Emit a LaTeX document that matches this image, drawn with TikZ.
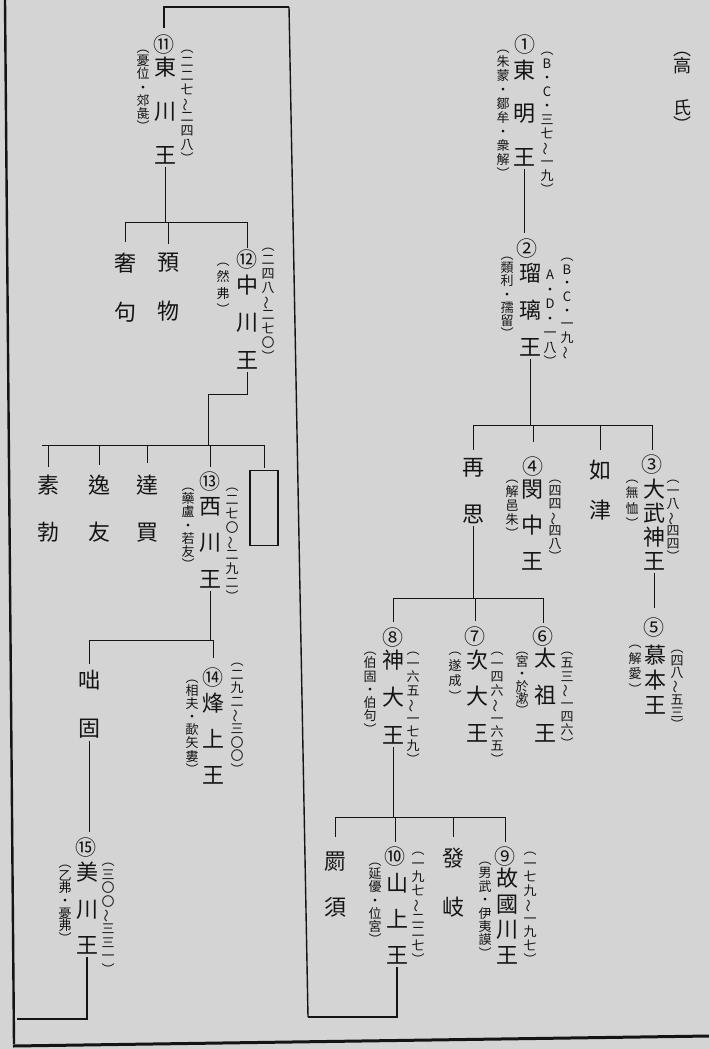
\documentclass[tikz,border=0pt]{standalone}
\usepackage{fontspec}
\usepackage{graphicx}
\newfontfamily\cjk{Noto Sans CJK TC}
\definecolor{paper}{RGB}{212,212,212}
\definecolor{ink}{RGB}{20,20,20}
\newcommand{\wv}{\rotatebox[origin=c]{90}{～}}
\tikzset{
  base/.style={inner sep=0pt, outer sep=0pt, text=ink, align=center, anchor=north},
  nm/.style={base, font=\cjk\fontsize{22}{#1}\selectfont},
  an/.style={base, font=\cjk\fontsize{13}{#1}\selectfont},
  an/.default=13.6,
  ck/.style={inner sep=0pt, outer sep=0pt, text=ink, font=\cjk\fontsize{21}{21}\selectfont},
  ln/.style={draw=ink, line width=0.8pt},
  drop/.style={ln, shorten >=#1},
  drop/.default=6pt,
  up/.style={ln, shorten <=3pt}
}
\begin{document}
\begin{tikzpicture}[x=1pt,y=-1pt]
\fill[paper] (0,0) rectangle (709,1049);
\useasboundingbox (0,0) rectangle (709,1049);

% title
\node[base, font=\cjk\fontsize{18}{13}\selectfont] (title) at (682,52) {︵\\高\\[24pt]氏\\︶};

% ---- right tree ----
\node[ck] (k1) at (525,45) {①};
\node[nm=43.5] (n1) at (524,60) {東\\明\\王};
\node[an=14] (a1l) at (503,50) {︵\\朱\\蒙\\・\\鄒\\牟\\・\\衆\\解\\︶};
\node[an=14] (a1r) at (547,52) {︵\\B\\・\\C\\・\\三\\七\\\wv\\一\\九\\︶};

\node[ck] (k2) at (527,249) {②};
\node[nm=37] (n2) at (530,263) {瑠\\璃\\王};
\node[an=13.2] (a2l) at (507,257) {︵\\類\\利\\・\\孺\\留\\︶};
\node[an=13.7] (a2r) at (567,258) {︵\\B\\・\\C\\・\\一\\九\\\wv};
\node[an=14.5] (a2m) at (550,270) {A\\・\\D\\・\\一\\八\\︶};

\node[nm=47] (r1) at (473,458) {再\\思};
\node[ck] (k4) at (533,467) {④};
\node[nm=36] (n4) at (532,480) {閔\\中\\王};
\node[an=14] (a4l) at (512,480) {︵\\解\\邑\\朱\\︶};
\node[an=13.2] (a4r) at (555,480) {︵\\四\\四\\\wv\\四\\八\\︶};
\node[nm=40] (r2) at (600,460) {如\\津};
\node[ck] (k3) at (652,465) {③};
\node[nm=24] (n3) at (654,479) {大\\武\\神\\王};
\node[an=15.5] (a3l) at (632,480) {︵\\無\\恤\\︶};
\node[an=13.2] (a3r) at (673,480) {︵\\一\\八\\\wv\\四\\四\\︶};

\node[ck] (k5) at (654,628) {⑤};
\node[nm=25] (n5) at (655,645) {慕\\本\\王};
\node[an=15.7] (a5l) at (635,645) {︵\\解\\愛\\︶};
\node[an=12.7] (a5r) at (677,650) {︵\\四\\八\\\wv\\五\\三\\︶};

\node[ck] (k6) at (543,637) {⑥};
\node[nm=37.5] (n6) at (545,648) {太\\祖\\王};
\node[an=12.2] (a6l) at (522,652) {︵\\宮\\・\\於\\漱\\︶};
\node[an=13.4] (a6r) at (567,652) {︵\\五\\三\\\wv\\一\\四\\六\\︶};

\node[ck] (k7) at (475,637) {⑦};
\node[nm=36.5] (n7) at (477,650) {次\\大\\王};
\node[an=15.7] (a7l) at (455,652) {︵\\遂\\成\\︶};
\node[an=13.75] (a7r) at (497,652) {︵\\一\\四\\六\\\wv\\一\\六\\五\\︶};

\node[ck] (k8) at (393,638) {⑧};
\node[nm=37.5] (n8) at (393,650) {神\\大\\王};
\node[an=13.3] (a8l) at (370,652) {︵\\伯\\固\\・\\伯\\句\\︶};
\node[an=13.75] (a8r) at (413,652) {︵\\一\\六\\五\\\wv\\一\\七\\九\\︶};

\node[nm=46] (r3) at (335,852) {罽\\須};
\node[ck] (k10) at (395,857) {⑩};
\node[nm=36] (n10) at (397,873) {山\\上\\王};
\node[an=13.2] (a10l) at (375,863) {︵\\延\\優\\・\\位\\宮\\︶};
\node[an=13.75] (a10r) at (418,852) {︵\\一\\九\\七\\\wv\\二\\二\\七\\︶};
\node[nm=49] (r4) at (453,848) {發\\岐};
\node[ck] (k9) at (505,857) {⑨};
\node[nm=25.7] (n9) at (507,868) {故\\國\\川\\王};
\node[an=13.4] (a9l) at (485,862) {︵\\男\\武\\・\\伊\\夷\\謨\\︶};
\node[an=13.75] (a9r) at (530,852) {︵\\一\\七\\九\\\wv\\一\\九\\七\\︶};

% ---- left tree ----
\node[ck] (k11) at (164,45) {⑪};
\node[nm=44] (n11) at (165,57) {東\\川\\王};
\node[an=13.2] (a11l) at (143,50) {︵\\憂\\位\\・\\郊\\彘\\︶};
\node[an=13.9] (a11r) at (187,50) {︵\\二\\二\\七\\\wv\\二\\四\\八\\︶};

\node[nm=49] (r5) at (125,253) {奢\\句};
\node[nm=49] (r6) at (168,253) {預\\物};
\node[ck] (k12) at (247,260) {⑫};
\node[nm=37.5] (n12) at (247,275) {中\\川\\王};
\node[an=16.3] (a12l) at (223,263) {︵\\然\\弗\\︶};
\node[an=13.9] (a12r) at (268,248) {︵\\二\\四\\八\\\wv\\二\\七\\〇\\︶};

\node[nm=47] (r7) at (48,475) {素\\勃};
\node[nm=47] (r8) at (99,475) {逸\\友};
\node[nm=47] (r9) at (147,475) {達\\買};
\node[ck] (k13) at (210,482) {⑬};
\node[nm=36.5] (n13) at (210,497) {西\\川\\王};
\node[an=13.2] (a13l) at (188,488) {︵\\藥\\盧\\・\\若\\友\\︶};
\node[an=13.9] (a13r) at (232,488) {︵\\二\\七\\〇\\\wv\\二\\九\\二\\︶};
\node[draw=ink, line width=1.1pt, minimum width=28pt, minimum height=75pt, inner sep=0pt, anchor=north] (box) at (264,470) {};

\node[nm=48] (r10) at (89,670) {咄\\固};
\node[ck] (k14) at (213,678) {⑭};
\node[nm=36] (n14) at (213,693) {烽\\上\\王};
\node[an=13.1] (a14l) at (192,680) {︵\\相\\夫\\・\\歃\\矢\\婁\\︶};
\node[an=13.6] (a14r) at (237,663) {︵\\二\\九\\二\\\wv\\三\\〇\\〇\\︶};

\node[ck] (k15) at (86,848) {⑮};
\node[nm=36.5] (n15) at (87,862) {美\\川\\王};
\node[an=12.7] (a15l) at (65,865) {︵\\乙\\弗\\・\\憂\\弗\\︶};
\node[an=13.6] (a15r) at (108,863) {︵\\三\\〇\\〇\\\wv\\三\\三\\一\\︶};

% ---- coordinates ----
\coordinate (b2) at (530,425);
\coordinate (b3) at (473,598);
\coordinate (b4) at (393,817);
\coordinate (b5) at (168,222);
\coordinate (b6) at (208,445);
\coordinate (b7) at (210,640);
\coordinate (c1) at (308,1017);
\coordinate (c2) at (289,7);
\coordinate (c3) at (208,394);
\coordinate (c5) at (17,1019);

% ---- connectors right ----
\draw[up, shorten >=6pt] (n1.south) -- (n1.south |- k2.north);
\draw[up] (n2.south) -- (n2.south |- b2);
\draw[ln] (r1.north |- b2) -- (k3.north |- b2);
\draw[drop=8pt] (r1.north |- b2) -- (r1.north);
\draw[drop=15pt] (k4.north |- b2) -- (k4.north);
\draw[drop=10pt] (r2.north |- b2) -- (r2.north);
\draw[drop=5pt] (k3.north |- b2) -- (k3.north);
\draw[up, shorten >=10pt] (n3.south) -- (n3.south |- k5.north);
\draw[up] (r1.south) -- (r1.south |- b3);
\draw[ln] (k8.north |- b3) -- (k6.north |- b3);
\draw[drop] (k8.north |- b3) -- (k8.north);
\draw[drop] (k7.north |- b3) -- (k7.north);
\draw[drop=4pt] (k6.north |- b3) -- (k6.north);
\draw[up] (n8.south) -- (n8.south |- b4);
\draw[ln] (r3.north |- b4) -- (k9.north |- b4);
\draw[drop=15pt] (r3.north |- b4) -- (r3.north);
\draw[drop=5pt] (k10.north |- b4) -- (k10.north);
\draw[drop=11pt] (r4.north |- b4) -- (r4.north);
\draw[drop=5pt] (k9.north |- b4) -- (k9.north);

% long connector from 10 to 11
\draw[ln, line width=1.1pt, shorten <=3pt] (n10.south) |- (c1);
\draw[ln, line width=1.4pt] (c1) -- (c2);
\draw[ln, line width=1.6pt, shorten >=7pt] (c2) -| (k11.north);

% ---- connectors left ----
\draw[up] (n11.south) -- (n11.south |- b5);
\draw[ln] (r5.north |- b5) -- (k12.north |- b5);
\draw[drop=11pt] (r5.north |- b5) -- (r5.north);
\draw[drop=9pt] (r6.north |- b5) -- (r6.north);
\draw[drop=2pt] (k12.north |- b5) -- (k12.north);
\draw[up] (n12.south) |- (c3) -- (c3 |- b6);
\draw[ln] ([xshift=-6pt]r7.north |- b6) -- (box.north |- b6);
\draw[drop=8pt] (r7.north |- b6) -- (r7.north);
\draw[drop=10pt] (r8.north |- b6) -- (r8.north);
\draw[drop=12pt] (r9.north |- b6) -- (r9.north);
\draw[drop=5pt] (k13.north |- b6) -- (k13.north);
\draw[drop=2pt] (box.north |- b6) -- (box.north);
\draw[up] (n13.south) -- (n13.south |- b7);
\draw[ln] (r10.north |- b7) -- (k14.north |- b7);
\draw[drop=6pt] (r10.north |- b7) -- (r10.north);
\draw[drop=10pt] (k14.north |- b7) -- (k14.north);
\draw[up, shorten >=6pt] (r10.south) -- (r10.south |- k15.north);
\draw[ln, line width=1.1pt, shorten <=3pt] (n15.south) |- (c5);

% page frame
\draw[ink, line width=2.4pt] (5,0) -- (14,1044);
\draw[ink, line width=3pt] (13,1046) -- (709,1036);
\end{tikzpicture}
\end{document}
